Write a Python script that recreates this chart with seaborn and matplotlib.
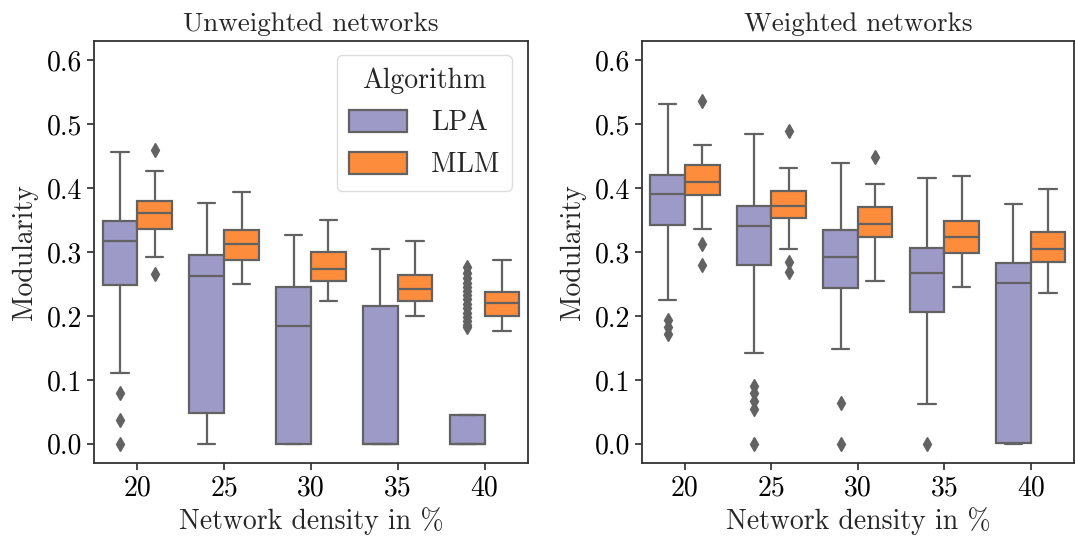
import matplotlib
matplotlib.use("Agg")
import matplotlib.pyplot as plt
import seaborn as sns
import pandas as pd

# Network densities (x categories) and the two community-detection algorithms
densities = [20, 25, 30, 35, 40]
algorithms = ["LPA", "MLM"]

# Box-plot summaries per density: lower whisker, Q1, median, Q3, upper whisker
unw_lpa_stats = [
    [0.111, 0.249, 0.317, 0.348, 0.457],
    [0.000, 0.0475, 0.263, 0.296, 0.376],
    [0.000, 0.000, 0.185, 0.246, 0.326],
    [0.000, 0.000, 0.000, 0.216, 0.305],
    [0.000, 0.000, 0.000, 0.0455, 0.0455],
]
unw_mlm_stats = [
    [0.292, 0.3365, 0.361, 0.380, 0.427],
    [0.250, 0.287, 0.312, 0.335, 0.3945],
    [0.223, 0.2544, 0.273, 0.2994, 0.3495],
    [0.2006, 0.2236, 0.2414, 0.2644, 0.3166],
    [0.177, 0.1995, 0.220, 0.238, 0.2868],
]
w_lpa_stats = [
    [0.2256, 0.342, 0.390, 0.4205, 0.532],
    [0.142, 0.279, 0.341, 0.372, 0.484],
    [0.149, 0.243, 0.292, 0.335, 0.440],
    [0.0623, 0.206, 0.2664, 0.3055, 0.4155],
    [0.000, 0.002, 0.252, 0.283, 0.3753],
]
w_mlm_stats = [
    [0.336, 0.389, 0.410, 0.436, 0.468],
    [0.304, 0.353, 0.3717, 0.396, 0.4316],
    [0.255, 0.3237, 0.3435, 0.3706, 0.406],
    [0.2454, 0.298, 0.3236, 0.348, 0.419],
    [0.236, 0.2836, 0.305, 0.332, 0.3988],
]

# Outlying runs per density
unw_lpa_outliers = [
    [0.080, 0.038, 0.000],
    [],
    [],
    [],
    [0.276, 0.267, 0.260, 0.252, 0.246, 0.239, 0.232, 0.226,
     0.219, 0.212, 0.205, 0.199, 0.192, 0.186, 0.183],
]
unw_mlm_outliers = [[0.459, 0.266], [], [], [], []]
w_lpa_outliers = [
    [0.193, 0.183, 0.172],
    [0.090, 0.079, 0.067, 0.055, 0.000],
    [0.0645, 0.000],
    [0.000],
    [],
]
w_mlm_outliers = [
    [0.536, 0.313, 0.280],
    [0.489, 0.285, 0.268],
    [0.449],
    [],
    [],
]


def expand(stats, outliers, reps=30):
    """Build a sample whose box-plot statistics equal the given summary."""
    lo, q1, med, q3, hi = stats
    return [lo] + [q1] * reps + [med] * reps + [q3] * reps + [hi] + list(outliers)


def long_frame(lpa_stats, lpa_out, mlm_stats, mlm_out):
    rows = []
    for alg, st_all, out_all in (("LPA", lpa_stats, lpa_out), ("MLM", mlm_stats, mlm_out)):
        for d, st, out in zip(densities, st_all, out_all):
            for v in expand(st, out):
                rows.append({"Density": d, "Algorithm": alg, "Modularity": v})
    return pd.DataFrame(rows)


unweighted = long_frame(unw_lpa_stats, unw_lpa_outliers, unw_mlm_stats, unw_mlm_outliers)
weighted = long_frame(w_lpa_stats, w_lpa_outliers, w_mlm_stats, w_mlm_outliers)

sns.set_theme(style="ticks")
plt.rcParams.update({
    "font.family": "cmr10",
    "mathtext.fontset": "cm",
    "axes.formatter.use_mathtext": True,
    "font.size": 20,
    "axes.edgecolor": "#333333",
    "axes.linewidth": 1.3,
    "xtick.major.size": 5,
    "ytick.major.size": 5,
    "xtick.color": "#333333",
    "ytick.color": "#333333",
    "xtick.labelcolor": "black",
    "ytick.labelcolor": "black",
})

palette = {"LPA": "#9e9ac8", "MLM": "#fd8d3c"}
line_color = "#626262"

fig = plt.figure(figsize=(10.75, 5.37), dpi=100)
ax_l = fig.add_axes([0.0874, 0.1378, 0.4037, 0.7858])
ax_r = fig.add_axes([0.5970, 0.1378, 0.4020, 0.7858])

for ax, df, title, legend in ((ax_l, unweighted, "Unweighted networks", True),
                              (ax_r, weighted, "Weighted networks", False)):
    sns.boxplot(
        data=df, x="Density", y="Modularity", hue="Algorithm",
        hue_order=algorithms, order=densities, palette=palette,
        saturation=1, width=0.8, linewidth=1.6, linecolor=line_color,
        flierprops=dict(marker="d", markersize=7.5, markerfacecolor=line_color,
                        markeredgecolor=line_color),
        legend=legend, ax=ax,
    )
    ax.set_ylim(-0.030, 0.630)
    ax.set_xlim(-0.5, 4.5)
    ax.set_yticks([0.0, 0.1, 0.2, 0.3, 0.4, 0.5, 0.6])
    ax.set_yticklabels([f"{v:.1f}" for v in [0.0, 0.1, 0.2, 0.3, 0.4, 0.5, 0.6]], fontsize=20)
    ax.set_xticks(range(len(densities)))
    ax.set_xticklabels([str(d) for d in densities], fontsize=20)
    ax.set_title(title, fontsize=19.5, pad=7)
    ax.set_xlabel("Network density in %", fontsize=20, labelpad=4)
    ax.set_ylabel("Modularity", fontsize=20, labelpad=6)
    for side in ("top", "right", "left", "bottom"):
        ax.spines[side].set_visible(True)

leg = ax_l.get_legend()
if leg is not None:
    leg.remove()
handles, labels = ax_l.get_legend_handles_labels()
ax_l.legend(handles, labels, title="Algorithm", loc="upper right",
            fontsize=20, title_fontsize=20, frameon=True,
            edgecolor="#d5d5d5", borderpad=0.45, handlelength=2.1,
            handleheight=0.85, labelspacing=0.55, handletextpad=0.85,
            borderaxespad=0.0, bbox_to_anchor=(0.963, 0.966))

fig.savefig("out.png", dpi=100)
